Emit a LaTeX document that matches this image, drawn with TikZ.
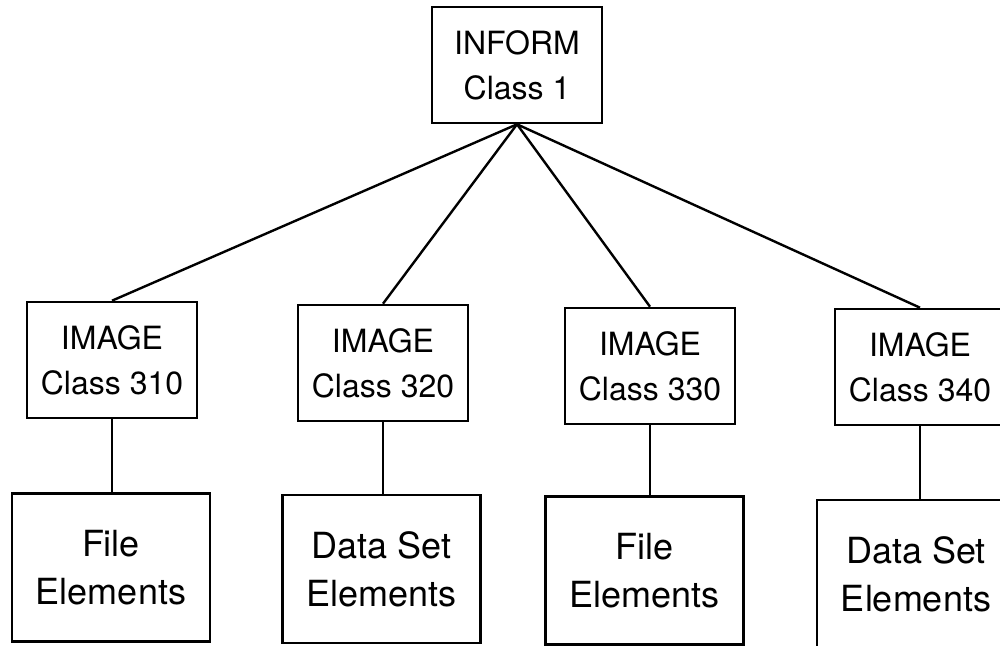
\documentclass[tikz,border=0pt]{standalone}
\usepackage{fontspec}
\setmainfont{TeX Gyre Heros}
\begin{document}
\begin{tikzpicture}[x=0.5pt,y=-0.5pt,
  link/.style={draw, line width=1.2pt},
  box/.style={draw, line width=1.3pt, rectangle, inner sep=0pt, align=center,
    minimum width=85pt, minimum height=58pt, font=\fontsize{16}{22.5}\selectfont},
  leaf/.style={box, minimum width=99pt, minimum height=74pt, font=\fontsize{18}{24}\selectfont}]
\fill[white] (0,0) rectangle (1000,646);
\useasboundingbox (0,0) rectangle (1000,646);
\node[box] (top) at (517,65) {INFORM\\Class 1};
\node[box] (i1) at (112,360) {IMAGE\\Class 310};
\node[box] (i2) at (383,363) {IMAGE\\Class 320};
\node[box] (i3) at (650,366) {IMAGE\\Class 330};
\node[box] (i4) at (920,367) {IMAGE\\Class 340};
\node[leaf] (b1) at (111,567.5) {File\\Elements};
\node[leaf] (b2) at (381.5,569) {Data Set\\Elements};
\node[leaf] (b3) at (644.5,570.5) {File\\Elements};
\node[leaf] (b4) at (916,574) {Data Set\\Elements};
\foreach \n in {i1,i2,i3,i4} \draw[link] (top.south) -- (\n.north);
\draw[link] (i1.south) -- (i1.south |- b1.north);
\draw[link] (i2.south) -- (i2.south |- b2.north);
\draw[link] (i3.south) -- (i3.south |- b3.north);
\draw[link] (i4.south) -- (i4.south |- b4.north);
\end{tikzpicture}
\end{document}
